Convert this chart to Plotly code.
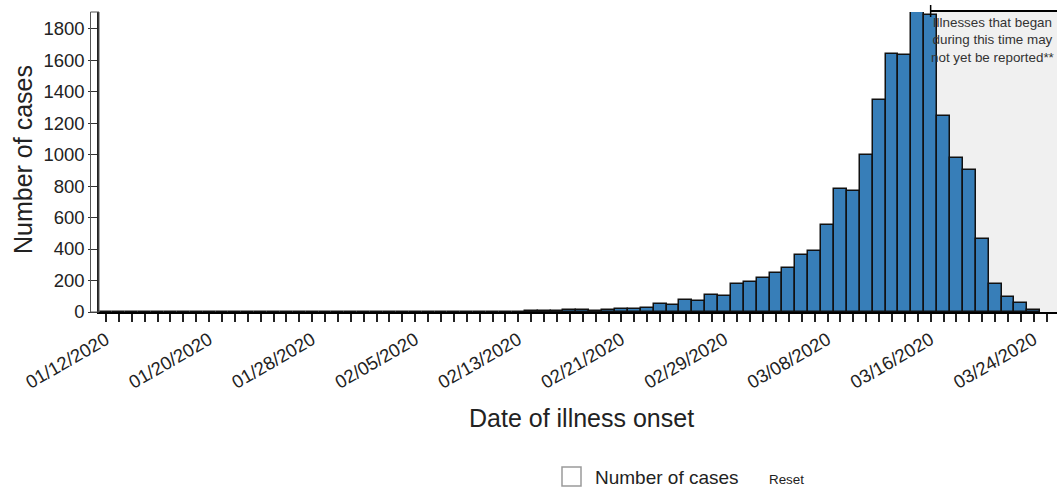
import plotly.graph_objects as go
import pandas as pd

# ---------------- data ----------------
onset_dates = [
    "2020-01-12", "2020-01-13", "2020-01-14", "2020-01-15", "2020-01-16", "2020-01-17", "2020-01-18",
    "2020-01-19", "2020-01-20", "2020-01-21", "2020-01-22", "2020-01-23", "2020-01-24", "2020-01-25",
    "2020-01-26", "2020-01-27", "2020-01-28", "2020-01-29", "2020-01-30", "2020-01-31",
    "2020-02-01", "2020-02-02", "2020-02-03", "2020-02-04", "2020-02-05", "2020-02-06", "2020-02-07",
    "2020-02-08", "2020-02-09", "2020-02-10", "2020-02-11", "2020-02-12", "2020-02-13", "2020-02-14",
    "2020-02-15", "2020-02-16", "2020-02-17", "2020-02-18", "2020-02-19", "2020-02-20", "2020-02-21",
    "2020-02-22", "2020-02-23", "2020-02-24", "2020-02-25", "2020-02-26", "2020-02-27", "2020-02-28",
    "2020-02-29",
    "2020-03-01", "2020-03-02", "2020-03-03", "2020-03-04", "2020-03-05", "2020-03-06", "2020-03-07",
    "2020-03-08", "2020-03-09", "2020-03-10", "2020-03-11", "2020-03-12", "2020-03-13", "2020-03-14",
    "2020-03-15", "2020-03-16", "2020-03-17", "2020-03-18", "2020-03-19", "2020-03-20", "2020-03-21",
    "2020-03-22", "2020-03-23", "2020-03-24",
]
case_counts = [
    0, 1, 0, 1, 0, 0, 1,
    1, 2, 1, 1, 2, 1, 2,
    1, 1, 2, 1, 1, 1,
    2, 1, 2, 1, 1, 2, 2,
    1, 2, 1, 3, 2, 3, 4,
    5, 4, 12, 15, 8, 14, 22,
    21, 26, 50, 43, 79, 73, 105,
    100,
    177, 192, 219, 249, 278, 365, 386,
    550, 783, 768, 995, 1344, 1641, 1635,
    1905, 1885, 1247, 980, 899, 461, 179,
    94, 60, 14,
]
first_tick_date = "2020-01-12"
label_step_days = 8
y_ticks = [0, 200, 400, 600, 800, 1000, 1200, 1400, 1600, 1800]
y_max = 1905
reporting_lag_start = "2020-03-16"
lag_note = "Illnesses that began<br>during this time may<br>not yet be reported**"
x_title = "Date of illness onset"
y_title = "Number of cases"
legend_label = "Number of cases"
reset_label = "Reset"

# ---------------- layout geometry ----------------
W, H = 1057, 493
ML, MR, MT, MB = 99, 0, 12, 181
PW, PH = W - ML - MR, H - MT - MB
px_per_day = 12.885
tick0_px = 106.0

t_first = pd.Timestamp(first_tick_date)
t0 = t_first - pd.Timedelta(days=(tick0_px - ML) / px_per_day)
t1 = t0 + pd.Timedelta(days=PW / px_per_day)


def xp(px):
    return (px - ML) / PW


def yp(py):
    return (H - MB - py) / PH


FONT = "Liberation Sans, Arial, sans-serif"

fig = go.Figure()
fig.add_trace(go.Bar(
    x=onset_dates,
    y=case_counts,
    marker=dict(color="#377eb8", line=dict(color="#111111", width=1.5)),
    name=legend_label,
    showlegend=False,
    hoverinfo="x+y",
))

shapes = [
    # reporting-lag shaded region
    dict(type="rect", xref="x", yref="paper", x0=reporting_lag_start, x1="2020-03-30",
         y0=0, y1=1, fillcolor="#f0f0f0", line=dict(width=0), layer="below"),
    # bracket on top of region
    dict(type="line", xref="x", yref="paper", x0=reporting_lag_start, x1="2020-03-30",
         y0=yp(11), y1=yp(11), line=dict(color="#000000", width=2)),
    dict(type="line", xref="x", yref="paper", x0=reporting_lag_start, x1=reporting_lag_start,
         y0=yp(5), y1=yp(17), line=dict(color="#000000", width=1.5)),
    # y axis box
    dict(type="rect", xref="paper", yref="paper", x0=xp(90.5), x1=xp(99), y0=0, y1=1,
         line=dict(color="#555555", width=1), fillcolor="rgba(0,0,0,0)"),
    # legend checkbox
    dict(type="rect", xref="paper", yref="paper", x0=xp(562), x1=xp(581), y0=yp(486), y1=yp(467),
         line=dict(color="#9a9a9a", width=1.5), fillcolor="#ffffff"),
]

annotations = [
    dict(text=lag_note, xref="paper", yref="paper", x=xp(992.5), y=yp(13), xanchor="center",
         yanchor="top", showarrow=False, align="center",
         font=dict(family=FONT, size=13.4, color="#333333")),
    dict(text=x_title, xref="paper", yref="paper", x=xp(581), y=yp(418), xanchor="center",
         yanchor="middle", showarrow=False, font=dict(family=FONT, size=25, color="#222222")),
    dict(text=y_title, xref="paper", yref="paper", x=xp(23), y=yp(160), xanchor="center",
         yanchor="middle", showarrow=False, textangle=-90,
         font=dict(family=FONT, size=25, color="#222222")),
    dict(text=legend_label, xref="paper", yref="paper", x=xp(593), y=yp(477), xanchor="left",
         yanchor="middle", showarrow=False, font=dict(family=FONT, size=19, color="#222222")),
    dict(text=reset_label, xref="paper", yref="paper", x=xp(767), y=yp(479), xanchor="left",
         yanchor="middle", showarrow=False, font=dict(family=FONT, size=13.4, color="#222222")),
]

fig.update_layout(
    width=W, height=H,
    margin=dict(l=ML, r=MR, t=MT, b=MB, pad=0),
    plot_bgcolor="white", paper_bgcolor="white",
    bargap=0,
    showlegend=False,
    shapes=shapes,
    annotations=annotations,
    font=dict(family=FONT, color="#222222"),
    xaxis=dict(
        type="date", range=[t0, t1],
        tickmode="linear", tick0=first_tick_date, dtick=label_step_days * 86400000,
        tickformat="%m/%d/%Y", tickangle=-30,
        ticks="outside", ticklen=8, tickwidth=1.5, tickcolor="#222222",
        minor=dict(ticks="outside", dtick=86400000, tick0=first_tick_date, ticklen=8,
                   tickwidth=1.5, tickcolor="#222222", showgrid=False),
        showline=True, linecolor="#000000", linewidth=2,
        showgrid=False, zeroline=False,
        tickfont=dict(family=FONT, size=18.5, color="#222222"),
    ),
    yaxis=dict(
        range=[0, y_max], tickmode="array", tickvals=y_ticks,
        ticks="outside", ticklen=9, tickwidth=1.2, tickcolor="#333333",
        showline=True, linecolor="#222222", linewidth=1.5,
        showgrid=False, zeroline=False,
        tickfont=dict(family=FONT, size=18.5, color="#222222"),
    ),
)

fig.write_html("out.html", config={"displayModeBar": False},
               post_script="document.body.style.margin='0px';")
